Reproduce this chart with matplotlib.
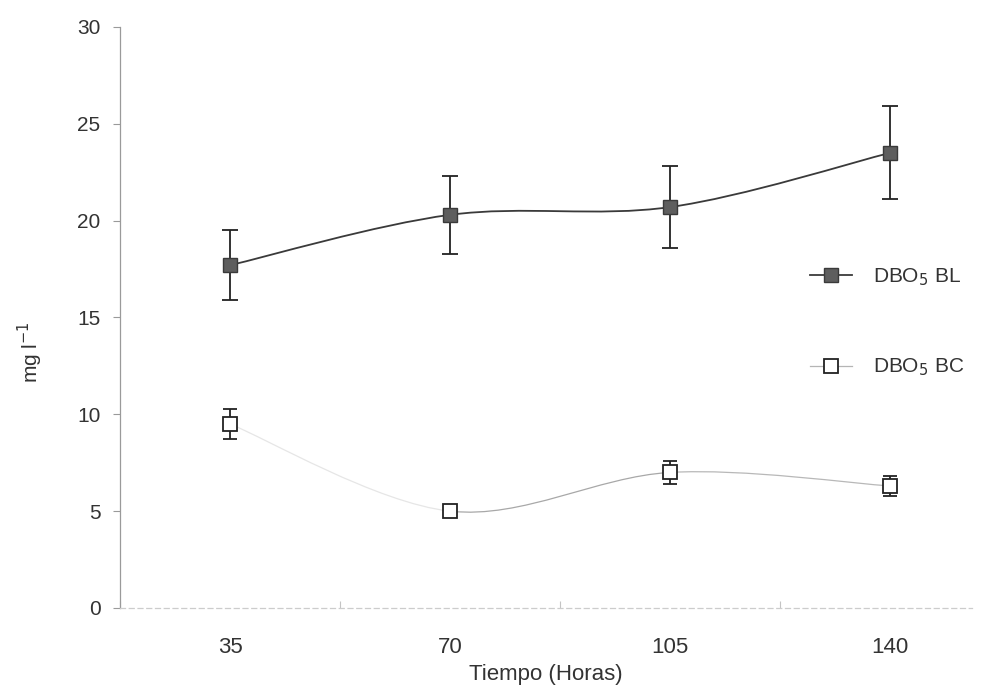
import numpy as np
import matplotlib
matplotlib.use('Agg')
import matplotlib.pyplot as plt
from matplotlib.path import Path
from matplotlib.patches import PathPatch
from matplotlib.lines import Line2D

plt.rcParams['font.family'] = ['Liberation Sans', 'DejaVu Sans']

hours = ['35', '70', '105', '140']
dbo_bl = [17.7, 20.3, 20.7, 23.5]
dbo_bl_err = [1.8, 2.0, 2.1, 2.4]
dbo_bc = [9.5, 5.0, 7.0, 6.3]
dbo_bc_err = [0.75, 0.2, 0.6, 0.5]


def smooth_segments(x, y):
    # one cubic bezier per interval (catmull-rom style tangents)
    pts = np.column_stack([x, y]).astype(float)
    ext = np.vstack([pts[0], pts, pts[-1]])
    paths = []
    for i in range(len(pts) - 1):
        p0, p1, p2, p3 = ext[i], ext[i + 1], ext[i + 2], ext[i + 3]
        verts = [p1, p1 + (p2 - p0) / 6.0, p2 - (p3 - p1) / 6.0, p2]
        paths.append(Path(verts, [Path.MOVETO] + [Path.CURVE4] * 3))
    return paths


x = np.arange(1, len(hours) + 1)

fig = plt.figure(figsize=(9.87, 6.88), dpi=100)
ax = fig.add_axes([0.1216, 0.1163, 0.8634, 0.8445])

for p in smooth_segments(x, dbo_bl):
    ax.add_patch(PathPatch(p, fill=False, edgecolor='#3a3a3a', lw=1.3, zorder=2))
# the BC line is printed very pale, almost gone in the first interval
bc_colors = ['#e6e6e6', '#a8a8a8', '#b8b8b8']
for p, c in zip(smooth_segments(x, dbo_bc), bc_colors):
    ax.add_patch(PathPatch(p, fill=False, edgecolor=c, lw=0.9, zorder=2))

ax.errorbar(x, dbo_bl, yerr=dbo_bl_err, fmt='none', ecolor='#222222', elinewidth=1.3,
            capsize=6, capthick=1.3, zorder=3)
ax.errorbar(x, dbo_bc, yerr=dbo_bc_err, fmt='none', ecolor='#222222', elinewidth=1.3,
            capsize=5, capthick=1.3, zorder=3)
ax.plot(x, dbo_bl, ls='none', marker='s', ms=10.5, mfc='#5e5e5e', mec='#3a3a3a', mew=1.0, zorder=4)
ax.plot(x, dbo_bc, ls='none', marker='s', ms=10, mfc='white', mec='#222222', mew=1.3, zorder=4)

ax.set_xlim(0.5, 4.373)
ax.set_ylim(0, 30)
ax.set_yticks(np.arange(0, 31, 5))
ax.set_xticks(x)
ax.set_xticklabels(hours)
ax.set_xticks(np.arange(0.5, 4.5, 1.0), minor=True)

for s in ['top', 'right']:
    ax.spines[s].set_visible(False)
ax.spines['left'].set_color('#9a9a9a')
ax.spines['left'].set_linewidth(0.9)
ax.spines['bottom'].set_color('#cccccc')
ax.spines['bottom'].set_linewidth(0.9)
ax.spines['bottom'].set_linestyle((0, (4, 3)))

ax.tick_params(axis='y', direction='out', length=5, width=0.8, color='#9a9a9a',
               labelsize=15, labelcolor='#333333', pad=9)
ax.tick_params(axis='x', which='major', length=0, labelsize=16, labelcolor='#333333', pad=21)
ax.tick_params(axis='x', which='minor', direction='in', length=5, width=0.8, color='#c4c4c4')

ax.set_ylabel('mg l$^{-1}$', fontsize=15, color='#333333')
ax.yaxis.set_label_coords(-0.088, 0.44)
ax.set_xlabel('Tiempo (Horas)', fontsize=16, color='#333333', labelpad=4)

handles = [
    Line2D([], [], color='#3a3a3a', lw=1.3, marker='s', ms=10, mfc='#5e5e5e', mec='#3a3a3a'),
    Line2D([], [], color='#b5b5b5', lw=0.9, marker='s', ms=10, mfc='white', mec='#222222', mew=1.3),
]
ax.legend(handles, ['DBO$_5$ BL', 'DBO$_5$ BC'], loc='upper left',
          bbox_to_anchor=(0.788, 0.62), frameon=False, fontsize=15,
          labelspacing=3.3, handlelength=2.0, handletextpad=1.0, labelcolor='#333333')

fig.savefig('out.png', dpi=100)
